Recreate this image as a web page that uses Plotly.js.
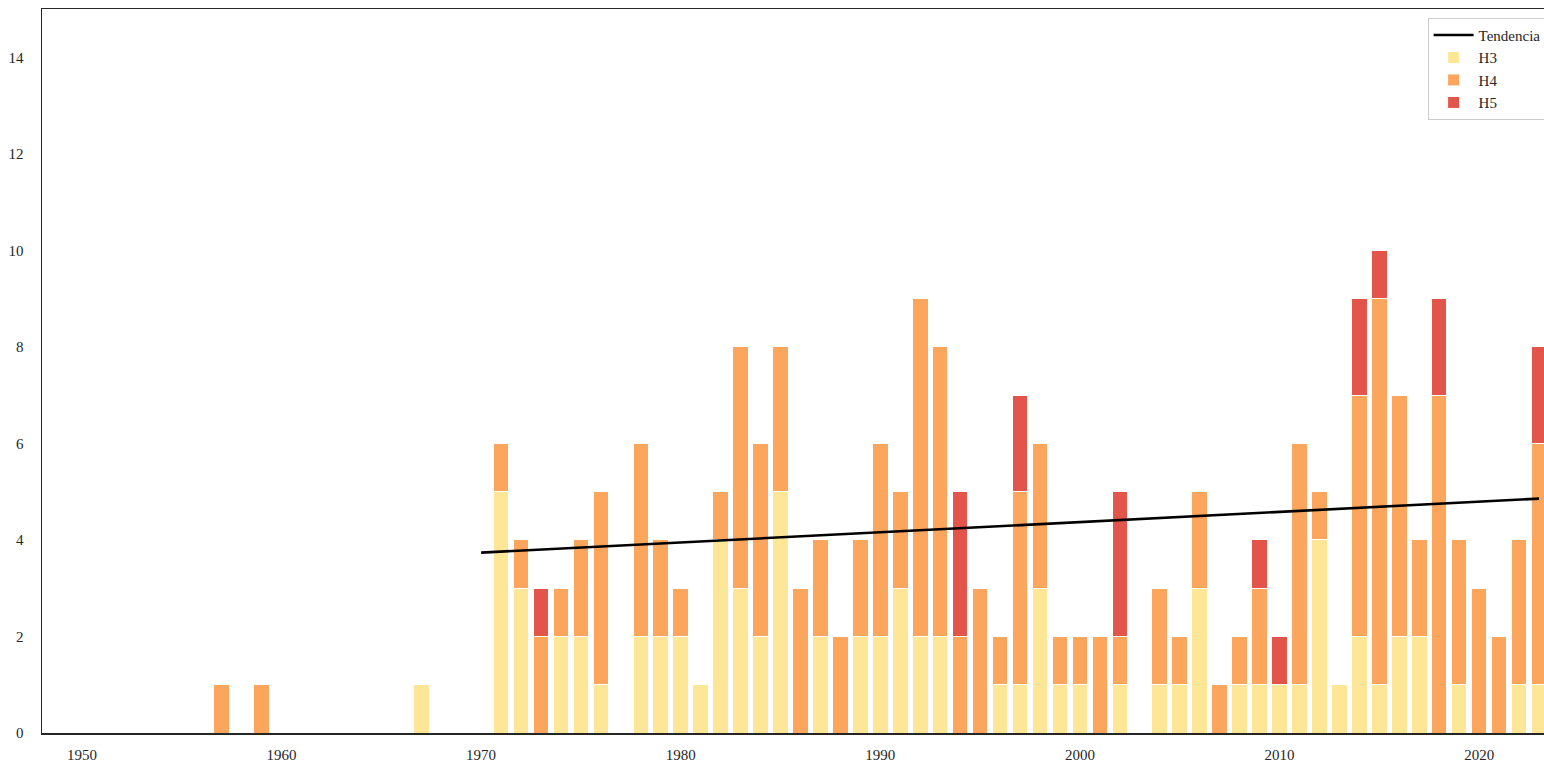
<!DOCTYPE html>
<html>
<head>
<meta charset="utf-8">
<script src="https://cdn.plot.ly/plotly-3.0.1.min.js"></script>
<style>html,body{margin:0;padding:0;background:#fff;}#chart{width:1544px;height:763px;}</style>
</head>
<body>
<div id="chart"></div>
<script>
// Year of each season (zero-count years kept from 1970 on for the trend)
const years = [1957, 1959, 1967,
  1970, 1971, 1972, 1973, 1974, 1975, 1976, 1977, 1978, 1979,
  1980, 1981, 1982, 1983, 1984, 1985, 1986, 1987, 1988, 1989,
  1990, 1991, 1992, 1993, 1994, 1995, 1996, 1997, 1998, 1999,
  2000, 2001, 2002, 2003, 2004, 2005, 2006, 2007, 2008, 2009,
  2010, 2011, 2012, 2013, 2014, 2015, 2016, 2017, 2018, 2019,
  2020, 2021, 2022, 2023];
const h3 = [0, 0, 1,
  0, 5, 3, 0, 2, 2, 1, 0, 2, 2,
  2, 1, 4, 3, 2, 5, 0, 2, 0, 2,
  2, 3, 2, 2, 0, 0, 1, 1, 3, 1,
  1, 0, 1, 0, 1, 1, 3, 0, 1, 1,
  1, 1, 4, 1, 2, 1, 2, 2, 0, 1,
  0, 0, 1, 1];
const h4 = [1, 1, 0,
  0, 1, 1, 2, 1, 2, 4, 0, 4, 2,
  1, 0, 1, 5, 4, 3, 3, 2, 2, 2,
  4, 2, 7, 6, 2, 3, 1, 4, 3, 1,
  1, 2, 1, 0, 2, 1, 2, 1, 1, 2,
  0, 5, 1, 0, 5, 8, 5, 2, 7, 3,
  3, 2, 3, 5];
const h5 = [0, 0, 0,
  0, 0, 0, 1, 0, 0, 0, 0, 0, 0,
  0, 0, 0, 0, 0, 0, 0, 0, 0, 0,
  0, 0, 0, 0, 3, 0, 0, 2, 0, 0,
  0, 0, 3, 0, 0, 0, 0, 0, 0, 1,
  1, 0, 0, 0, 2, 1, 0, 0, 2, 0,
  0, 0, 0, 2];
const trendStart = 1970;
const seriesNames = ['H3', 'H4', 'H5'];
const seriesColors = ['#fde797', '#fca55d', '#e3544b'];

// Least-squares trend of total major hurricanes per year from trendStart
const tx = [], ty = [];
years.forEach((y, i) => { if (y >= trendStart) { tx.push(y); ty.push(h3[i] + h4[i] + h5[i]); } });
const n = tx.length;
const mx = tx.reduce((a, b) => a + b, 0) / n;
const my = ty.reduce((a, b) => a + b, 0) / n;
let sxy = 0, sxx = 0;
for (let i = 0; i < n; i++) { sxy += (tx[i] - mx) * (ty[i] - my); sxx += (tx[i] - mx) ** 2; }
const slope = sxy / sxx, icpt = my - slope * mx;
const trendX = [tx[0], tx[n - 1]];
const trendY = trendX.map(x => icpt + slope * x);

const serif = 'Liberation Serif, Times New Roman, serif';
const vals = [h3, h4, h5];
const traces = [{
  type: 'scatter', mode: 'lines', name: 'Tendencia', x: trendX, y: trendY,
  line: {color: '#000000', width: 2.6}, legendrank: 1, hoverinfo: 'skip'
}];
vals.forEach((v, k) => {
  traces.push({
    type: 'bar', name: seriesNames[k], x: years, y: v, width: 0.78,
    marker: {color: seriesColors[k], line: {color: '#ffffff', width: 1}},
    legendrank: k + 2
  });
});

const layout = {
  width: 1544, height: 763,
  margin: {l: 42, r: 0, t: 9, b: 30, autoexpand: false},
  paper_bgcolor: '#ffffff', plot_bgcolor: '#ffffff',
  barmode: 'stack', bargap: 0,
  font: {family: serif, size: 15, color: '#262626'},
  showlegend: true,
  legend: {
    x: 0.9225, y: 0.988, xanchor: 'left', yanchor: 'top',
    traceorder: 'normal', bgcolor: '#ffffff', bordercolor: '#cccccc', borderwidth: 1,
    font: {family: serif, size: 15, color: '#262626'}, tracegroupgap: 0, itemwidth: 40
  },
  xaxis: {
    range: [1948, 2023.25], tickvals: [1950, 1960, 1970, 1980, 1990, 2000, 2010, 2020],
    showgrid: false, zeroline: false, showline: true, linecolor: '#262626', linewidth: 1.5,
    mirror: true, ticks: '', ticklabelstandoff: 7
  },
  yaxis: {
    range: [0, 15], tickvals: [0, 2, 4, 6, 8, 10, 12, 14],
    showgrid: false, zeroline: false, showline: true, linecolor: '#262626', linewidth: 1.5,
    mirror: false, ticks: '', ticklabelstandoff: 14
  }
};
Plotly.newPlot('chart', traces, layout, {displayModeBar: false, staticPlot: true});
</script>
</body>
</html>
